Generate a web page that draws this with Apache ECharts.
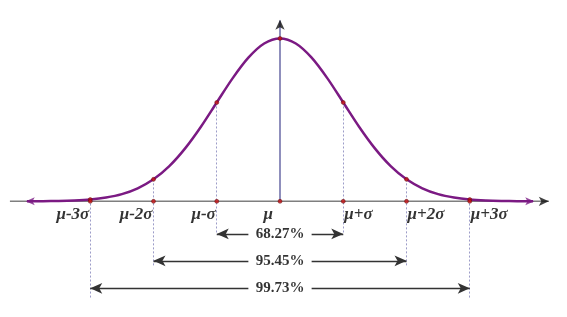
<!DOCTYPE html>
<html><head><meta charset="utf-8">
<script src="https://cdn.jsdelivr.net/npm/echarts@6/dist/echarts.min.js"></script>
<style>html,body{margin:0;padding:0;background:#fff}#c{width:567px;height:317px}</style>
</head><body><div id="c"></div>
<script>
// curve (x in sigma units, height relative to peak)
const curveX = [-4,-3.75,-3.5,-3.25,-3,-2.75,-2.5,-2.25,-2,-1.75,-1.5,-1.25,-1,-0.75,-0.5,-0.25,0,0.25,0.5,0.75,1,1.25,1.5,1.75,2,2.25,2.5,2.75,3,3.25,3.5,3.75,4];
const curveY = [0.0003,0.001,0.002,0.005,0.011,0.023,0.044,0.080,0.135,0.216,0.325,0.458,0.607,0.755,0.882,0.969,1.0,0.969,0.882,0.755,0.607,0.458,0.325,0.216,0.135,0.080,0.044,0.023,0.011,0.005,0.002,0.001,0.0003];
const sigmaTicks = [-3,-2,-1,0,1,2,3];
const tickLabels = ['μ-3σ','μ-2σ','μ-σ','μ','μ+σ','μ+2σ','μ+3σ'];
const rangeK = [1,2,3];
const rangeLabels = ['68.27%','95.45%','99.73%'];
const rangeRowY = [-0.2,-0.365,-0.534];
const guideBottomY = [-0.2,-0.4,-0.594];

const yAt = x => curveY[curveX.indexOf(x)];
const font = '"Liberation Serif", "DejaVu Serif", serif';

const curveData = curveX.map((x,i)=>[x,curveY[i]]);

const guideLines = [];
rangeK.forEach((k,i)=>{
  [-k,k].forEach(x=>{
    guideLines.push([{coord:[x,yAt(x)]},{coord:[x,guideBottomY[i]]}]);
  });
});
const rangeArrows = [];
rangeK.forEach((k,i)=>{
  rangeArrows.push([{coord:[-0.5,rangeRowY[i]]},{coord:[-k,rangeRowY[i]]}]);
  rangeArrows.push([{coord:[0.5,rangeRowY[i]]},{coord:[k,rangeRowY[i]]}]);
});

const tickData = sigmaTicks.map((x,i)=>{
  const neg = x<0, zero = x===0;
  return {value:[x,0], label:{
    show:true, formatter:tickLabels[i], position:'bottom', distance:2,
    align: neg||zero ? 'right':'left',
    offset: zero ? [-7,0] : (neg ? [-1,0] : [1,0])
  }};
});

const chart = echarts.init(document.getElementById('c'));
chart.setOption({
  animation:false,
  grid:{left:1.7, right:8.7, top:14, bottom:0},
  xAxis:{type:'value', min:-4.4, max:4.4, show:false},
  yAxis:{type:'value', min:-0.71, max:1.15, show:false},
  series:[
    {
      type:'line', data:[], silent:true, z:1,
      markLine:{symbol:'none', silent:true, label:{show:false},
        lineStyle:{color:'#9c9cc8', type:[2,2], width:1}, data:guideLines}
    },
    {
      type:'line', data:[[-4.27,0],[4.25,0]], symbol:'none', z:2,
      lineStyle:{color:'#7f7f7f', width:1.5}
    },
    {
      type:'line', data:[[0,0],[0,1.11]], symbol:'none', z:2,
      lineStyle:{color:'#6a6aa6', width:1.5}
    },
    {
      type:'scatter', z:3,
      data:[
        {value:[4.25,0], symbol:'arrow', symbolRotate:-90, symbolSize:[7,10]},
        {value:[0,1.115], symbol:'arrow', symbolRotate:0, symbolSize:[7,10]}
      ],
      itemStyle:{color:'#111'}
    },
    {
      type:'line', data:curveData, smooth:0.3, symbol:'none', z:4,
      lineStyle:{color:'#7b1a83', width:2.5}
    },
    {
      type:'scatter', z:5,
      data:[
        {value:[curveX[0]-0.02,curveY[0]], symbol:'arrow', symbolRotate:90, symbolSize:[6,9]},
        {value:[curveX[curveX.length-1]+0.02,curveY[curveY.length-1]], symbol:'arrow', symbolRotate:-90, symbolSize:[6,9]}
      ],
      itemStyle:{color:'#7b1a83'}
    },
    {
      type:'scatter', z:6, symbolSize:4,
      data: sigmaTicks.map(x=>[x,yAt(x)]),
      itemStyle:{color:'#c81010', borderColor:'#5a0a10', borderWidth:0.6}
    },
    {
      type:'scatter', z:6, symbolSize:4,
      data: tickData,
      itemStyle:{color:'#c81010', borderColor:'#5a0a10', borderWidth:0.6},
      label:{fontFamily:font, fontStyle:'italic', fontWeight:'bold', fontSize:17, color:'#000'}
    },
    {
      type:'scatter', z:6, symbolSize:0,
      data: rangeK.map((k,i)=>({value:[0,rangeRowY[i]], label:{show:true, formatter:rangeLabels[i]}})),
      label:{position:'inside', fontFamily:font, fontWeight:'bold', fontSize:15, color:'#000'},
      markLine:{symbol:['none','arrow'], symbolSize:[8,12], silent:true, label:{show:false},
        lineStyle:{color:'#333', type:'solid', width:1.3}, data:rangeArrows}
    }
  ]
});
</script></body></html>
